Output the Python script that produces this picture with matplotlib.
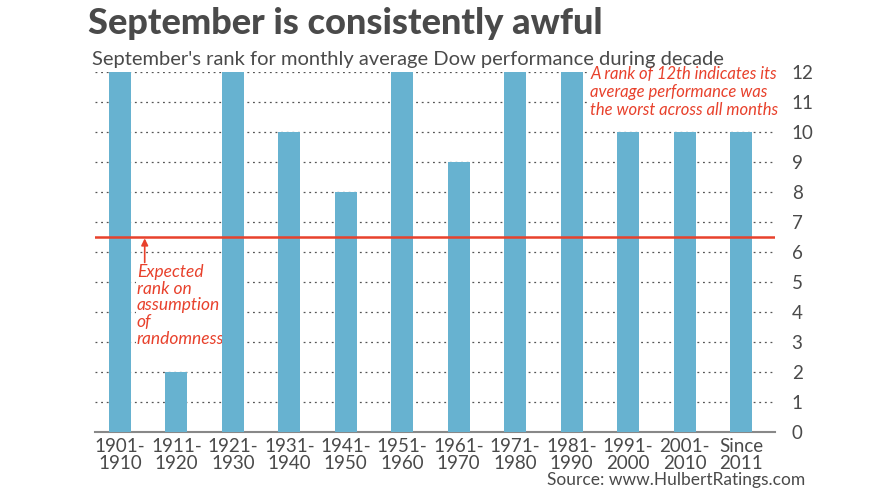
import matplotlib.pyplot as plt

plt.rcParams['font.family'] = ['Lato', 'DejaVu Sans']

decades = ['1901-\n1910', '1911-\n1920', '1921-\n1930', '1931-\n1940', '1941-\n1950', '1951-\n1960',
           '1961-\n1970', '1971-\n1980', '1981-\n1990', '1991-\n2000', '2001-\n2010', 'Since\n2011']
ranks = [12, 2, 12, 10, 8, 12, 9, 12, 12, 10, 10, 10]
expected = 6.5
yticks = list(range(0, 13))

bar_col = '#67b2d0'
red = '#e8412c'
grey = '#4a4a4a'

fig = plt.figure(figsize=(8.9, 5.01), dpi=100)
ax = fig.add_axes([95/890, 1-432/501, 680/890, 360/501])

x = list(range(len(decades)))
ax.bar(x, ranks, width=0.39, color=bar_col, zorder=3)
ax.axhline(expected, color=red, lw=1.8, zorder=4)

ax.set_xlim(-0.44, 11.6)
ax.set_ylim(0, 12)
ax.set_yticks(yticks)
ax.yaxis.tick_right()
ax.tick_params(axis='y', length=0, pad=12, labelsize=13.5, labelcolor=grey)
ax.set_xticks(x)
ax.set_xticklabels(decades, fontsize=13.5, color=grey, linespacing=1.0)
ax.tick_params(axis='x', length=0, pad=4)
for s in ['top', 'left', 'right']:
    ax.spines[s].set_visible(False)
ax.spines['bottom'].set_color('#888888')
ax.spines['bottom'].set_linewidth(1.5)
ax.grid(axis='y', linestyle=(0, (1.5, 3)), color='#555555', lw=0.9, zorder=1)
ax.set_axisbelow(True)

fig.text(88/890, 1-24/501, 'September is consistently awful', fontsize=26, fontweight='black',
         color=grey, va='center', ha='left')
fig.text(92/890, 1-60/501, "September's rank for monthly average Dow performance during decade",
         fontsize=14.5, color=grey, va='center', ha='left')

ax.text(8.33, 12.2,
        'A rank of 12th indicates its\naverage performance was\nthe worst across all months',
        fontsize=12, color=red, style='italic', va='top', ha='left', linespacing=1.15,
        bbox=dict(facecolor='white', edgecolor='none', pad=0), zorder=5)

ax.text(0.3, 5.6, 'Expected\nrank on\nassumption\nof\nrandomness',
        fontsize=12.5, color=red, style='italic', va='top', ha='left', linespacing=1.05,
        bbox=dict(facecolor='white', edgecolor='none', pad=0.5), zorder=2.5)
ax.annotate('', xy=(0.44, expected), xytext=(0.44, 5.65),
            arrowprops=dict(arrowstyle='-|>', color=red, lw=1.2, shrinkA=0, shrinkB=1,
                            mutation_scale=10), zorder=4)

fig.text(805/890, 1-480/501, 'Source: www.HulbertRatings.com', fontsize=12.5, color=grey,
         ha='right', va='center')

fig.savefig('out.png', dpi=100)
